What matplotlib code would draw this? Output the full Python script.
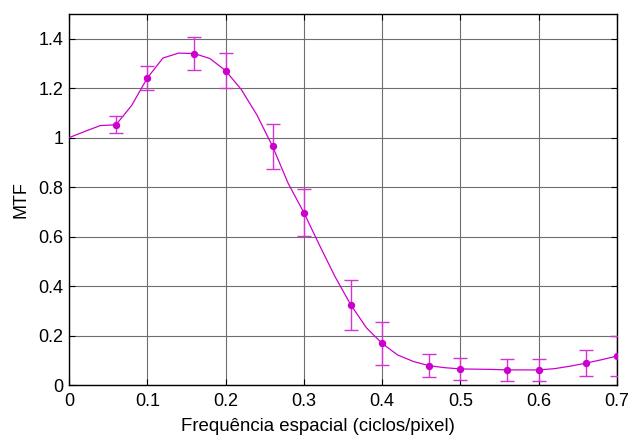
import matplotlib
matplotlib.use("Agg")
import matplotlib.pyplot as plt
import numpy as np

plt.rcParams['font.family'] = ['Liberation Sans', 'DejaVu Sans']

# smooth curve (polyline vertices)
curve_x = [0.00, 0.02, 0.04, 0.06, 0.08, 0.10, 0.12, 0.14, 0.16, 0.18, 0.20, 0.22,
           0.24, 0.26, 0.28, 0.30, 0.32, 0.34, 0.36, 0.38, 0.40, 0.42, 0.44, 0.46,
           0.48, 0.50, 0.52, 0.54, 0.56, 0.58, 0.60, 0.62, 0.64, 0.66, 0.68, 0.70]
curve_y = [1.000, 1.025, 1.049, 1.052, 1.130, 1.241, 1.322, 1.342, 1.340, 1.320, 1.271, 1.195,
           1.092, 0.965, 0.815, 0.697, 0.565, 0.437, 0.324, 0.231, 0.168, 0.121, 0.095, 0.078,
           0.070, 0.065, 0.064, 0.063, 0.061, 0.061, 0.061, 0.066, 0.076, 0.088, 0.102, 0.117]

# measured points with error bars
pts_x = [0.06, 0.10, 0.16, 0.20, 0.26, 0.30, 0.36, 0.40, 0.46, 0.50, 0.56, 0.60, 0.66, 0.70]
pts_y = [1.052, 1.241, 1.340, 1.271, 0.965, 0.697, 0.324, 0.168, 0.078, 0.065, 0.061, 0.061, 0.088, 0.117]
pts_err = [0.034, 0.048, 0.065, 0.071, 0.091, 0.096, 0.101, 0.087, 0.047, 0.043, 0.045, 0.045, 0.053, 0.082]

xticks = [0, 0.1, 0.2, 0.3, 0.4, 0.5, 0.6, 0.7]
xticklabels = ['0', '0.1', '0.2', '0.3', '0.4', '0.5', '0.6', '0.7']
yticks = [0, 0.2, 0.4, 0.6, 0.8, 1.0, 1.2, 1.4]
yticklabels = ['0', '0.2', '0.4', '0.6', '0.8', '1', '1.2', '1.4']

color = '#CC00CC'

fig = plt.figure(figsize=(6.3, 4.36), dpi=100)
ax = fig.add_axes([69/630, 1-385/436, (617-69)/630, (385-14)/436])

ax.plot(curve_x, curve_y, color=color, lw=0.9, zorder=3)
ax.errorbar(pts_x, pts_y, yerr=pts_err, fmt='o', color=color, ms=4.3, elinewidth=1.0,
            capsize=5, capthick=1.0, ecolor='#D233D2', zorder=4)

ax.set_xlim(0, 0.7)
ax.set_ylim(0, 1.5)
ax.set_xticks(xticks)
ax.set_xticklabels(xticklabels)
ax.set_yticks(yticks)
ax.set_yticklabels(yticklabels)
ax.grid(True, color='#6e6e6e', lw=0.8, ls='-')
ax.set_axisbelow(True)
ax.tick_params(direction='in', length=4, width=0.8, top=True, right=True,
               labelsize=13, colors='black')
ax.tick_params(axis='x', pad=6)
ax.tick_params(axis='y', pad=4)
for s in ax.spines.values():
    s.set_linewidth(1.0)
    s.set_color('black')

ax.set_xlabel('Frequência espacial (ciclos/pixel)', fontsize=13.4)
ax.xaxis.set_label_coords((318-69)/548, -(426-385)/371, transform=ax.transAxes)
ax.xaxis.label.set_va('center')
ax.set_ylabel('MTF', fontsize=13, labelpad=6)

fig.savefig('out.png', dpi=100)
